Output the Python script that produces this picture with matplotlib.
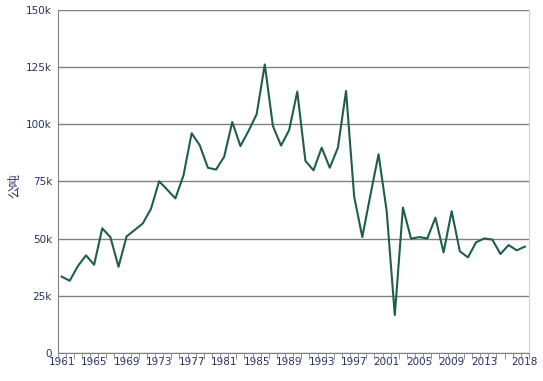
import matplotlib
matplotlib.use("Agg")
import matplotlib.pyplot as plt
import numpy as np

plt.rcParams['font.family'] = ['DejaVu Sans', 'Noto Sans CJK SC']

# 年份与产量 (公吨)
years = list(range(1961, 2019))
values = [
    33400, 31600, 38000, 42700, 38600, 54500, 50700, 37700, 51000, 53800,
    56700, 63100, 75100, 71400, 67600, 77700, 96100, 90800, 81000, 80200,
    85800, 101000, 90500, 97100, 104400, 126200, 99300, 90700, 97500, 114300,
    84000, 79900, 89800, 81000, 89800, 114600, 68400, 50700, 69100, 86900,
    62100, 16600, 63600, 50000, 50700, 50100, 59200, 44000, 62000, 44500,
    41800, 48400, 50100, 49600, 43300, 47200, 44900, 46500,
]
label_years = [1961, 1965, 1969, 1973, 1977, 1981, 1985, 1989, 1993, 1997,
               2001, 2005, 2009, 2013, 2018]
y_ticks = [0, 25000, 50000, 75000, 100000, 125000, 150000]
y_labels = ["0", "25k", "50k", "75k", "100k", "125k", "150k"]

text_color = "#26306a"

fig = plt.figure(figsize=(5.43, 3.81), dpi=100)
ax = fig.add_axes([0.106, 0.0735, 0.868, 0.9003])

ax.plot(years, values, color="#1f5f4a", linewidth=1.5, zorder=3)

ax.set_xlim(1960.5, 2018.5)
ax.set_ylim(0, 150000)

ax.set_yticks(y_ticks)
ax.set_yticklabels(y_labels)
ax.yaxis.grid(True, color="#808080", linewidth=1)
ax.set_axisbelow(True)

ax.set_xticks(label_years)
ax.set_xticklabels([str(y) for y in label_years])
ax.set_xticks(np.arange(1960.5, 2019, 1), minor=True)
ax.tick_params(axis="x", which="major", length=0, pad=3)
ax.tick_params(axis="x", which="minor", length=4, color="#808080")
ax.tick_params(axis="y", length=0, pad=4)
ax.tick_params(labelsize=7.5, labelcolor=text_color)

for side in ["left", "bottom"]:
    ax.spines[side].set_color("#808080")
ax.spines["top"].set_visible(False)
ax.spines["right"].set_color("#d0d0d0")

fig.text(15 / 543, 1 - 186 / 381, "公吨", family="Noto Sans CJK SC",
         fontsize=9, color="#3a2c6e", rotation=90, ha="center", va="center")

fig.savefig("out.png", dpi=100)
